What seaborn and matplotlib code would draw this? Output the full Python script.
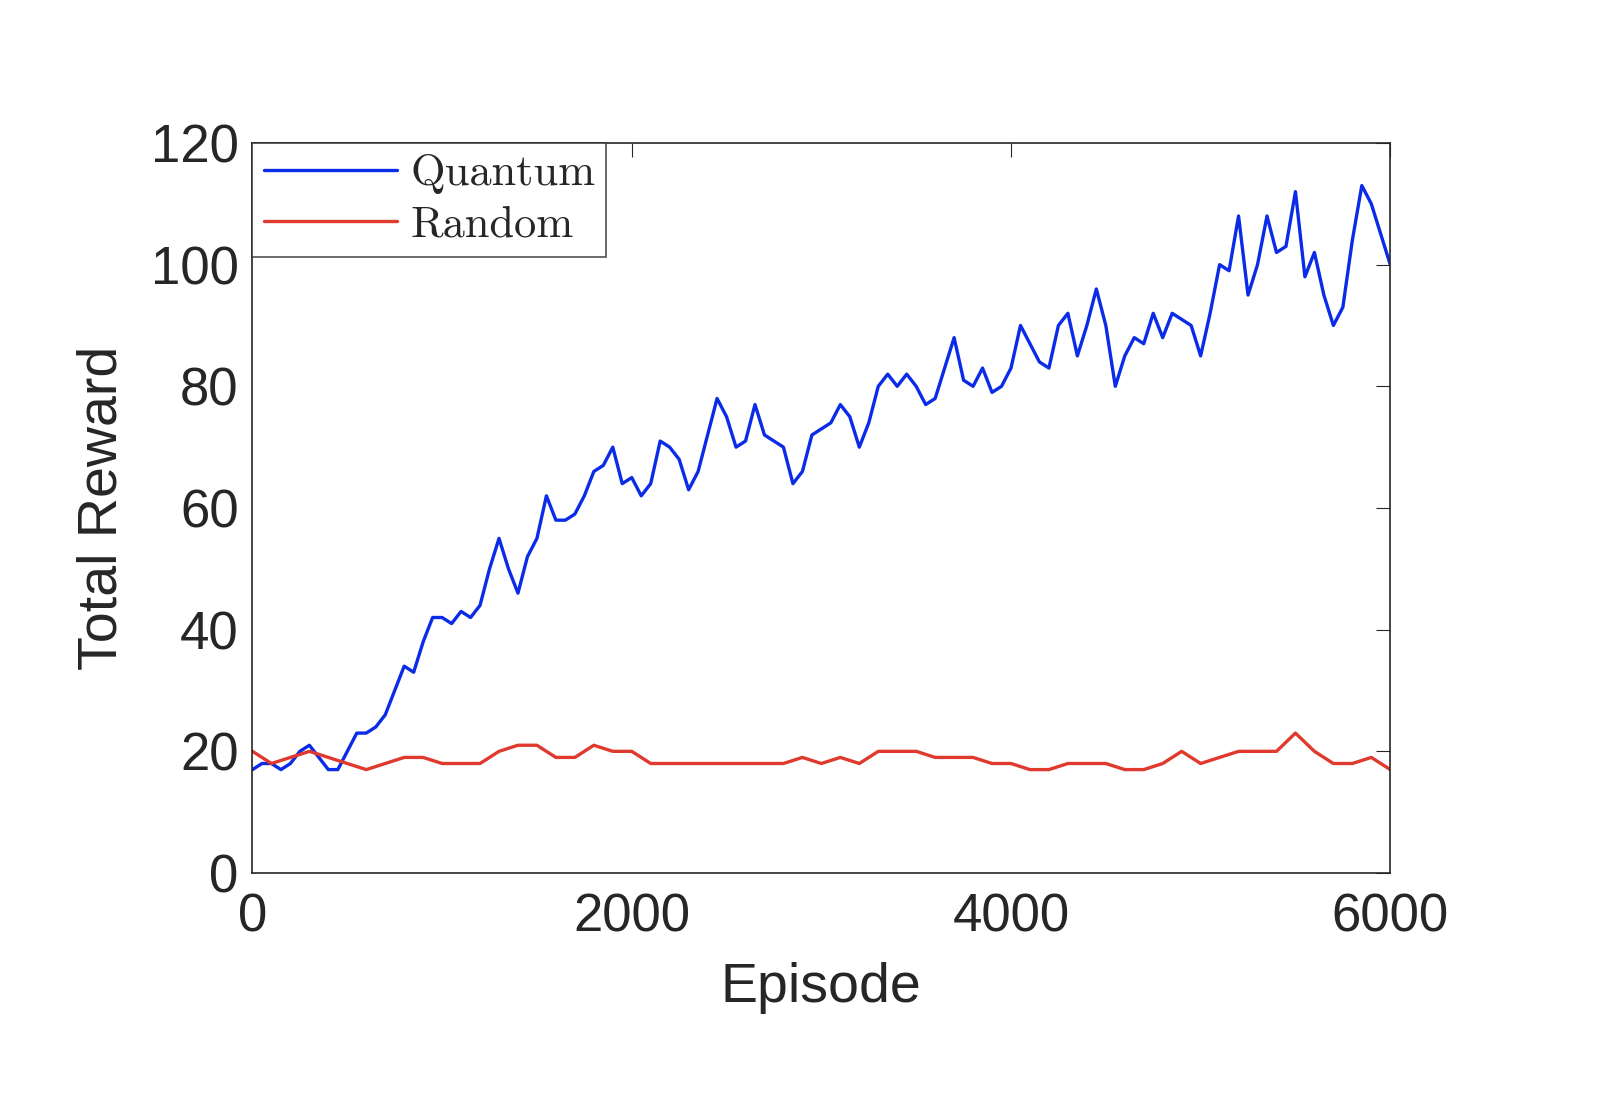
import numpy as np
import pandas as pd
import matplotlib
matplotlib.use("Agg")
import matplotlib.pyplot as plt
import seaborn as sns

quantum_episodes = list(range(0, 6001, 50))
quantum_reward = [17, 18, 18, 17, 18, 20, 21, 19, 17, 17, 20, 23, 23, 24, 26, 30, 34, 33, 38, 42,
                  42, 41, 43, 42, 44, 50, 55, 50, 46, 52, 55, 62, 58, 58, 59, 62, 66, 67, 70, 64,
                  65, 62, 64, 71, 70, 68, 63, 66, 72, 78, 75, 70, 71, 77, 72, 71, 70, 64, 66, 72,
                  73, 74, 77, 75, 70, 74, 80, 82, 80, 82, 80, 77, 78, 83, 88, 81, 80, 83, 79, 80,
                  83, 90, 87, 84, 83, 90, 92, 85, 90, 96, 90, 80, 85, 88, 87, 92, 88, 92, 91, 90,
                  85, 92, 100, 99, 108, 95, 100, 108, 102, 103, 112, 98, 102, 95, 90, 93, 104, 113,
                  110, 105, 100]

# Random agent reward, sampled every 100 episodes
random_episodes = list(range(0, 6001, 100))
random_reward = [20, 18, 19, 20, 19, 18, 17, 18, 19, 19, 18, 18, 18, 20, 21, 21, 19, 19, 21, 20,
                 20, 18, 18, 18, 18, 18, 18, 18, 18, 19, 18, 19, 18, 20, 20, 20, 19, 19, 19, 18,
                 18, 17, 17, 18, 18, 18, 17, 17, 18, 20, 18, 19, 20, 20, 20, 23, 20, 18, 18, 19, 17]

df_q = pd.DataFrame({"Episode": quantum_episodes, "Reward": quantum_reward})
df_r = pd.DataFrame({"Episode": random_episodes, "Reward": random_reward})

sns.set_style("white")
plt.rcParams["font.family"] = ["Liberation Sans", "DejaVu Sans"]

fig = plt.figure(figsize=(15.98, 11.1), dpi=100)
ax = fig.add_axes([0.158, 0.2135, 0.712, 0.6577])

sns.lineplot(data=df_q, x="Episode", y="Reward", ax=ax, color="#0a2be8", lw=2.4,
             label="Quantum")
sns.lineplot(data=df_r, x="Episode", y="Reward", ax=ax, color="#e0392e", lw=2.4,
             label="Random")

ax.set_xlim(0, 6000)
ax.set_ylim(0, 120)
ax.set_xticks([0, 2000, 4000, 6000])
ax.set_yticks(range(0, 121, 20))
ax.tick_params(direction="in", top=True, right=True, labelsize=38, length=10,
               color="#262626", labelcolor="#262626")
ax.tick_params(axis="x", pad=14)
ax.tick_params(axis="y", pad=10)
for s in ax.spines.values():
    s.set_color("#262626")
    s.set_linewidth(1.2)
ax.set_xlabel("Episode", fontsize=40, color="#262626", labelpad=14)
ax.set_ylabel("Total Reward", fontsize=40, color="#262626", labelpad=16)

leg = ax.legend(loc="upper left", prop={"family": "cmr10", "size": 32}, frameon=True,
                fancybox=False, borderaxespad=0, handlelength=3.0, handletextpad=0.3,
                borderpad=0.25, labelspacing=0.25)
leg.get_frame().set_edgecolor("#262626")
leg.get_frame().set_linewidth(1.2)

fig.savefig("out.png", dpi=100)
